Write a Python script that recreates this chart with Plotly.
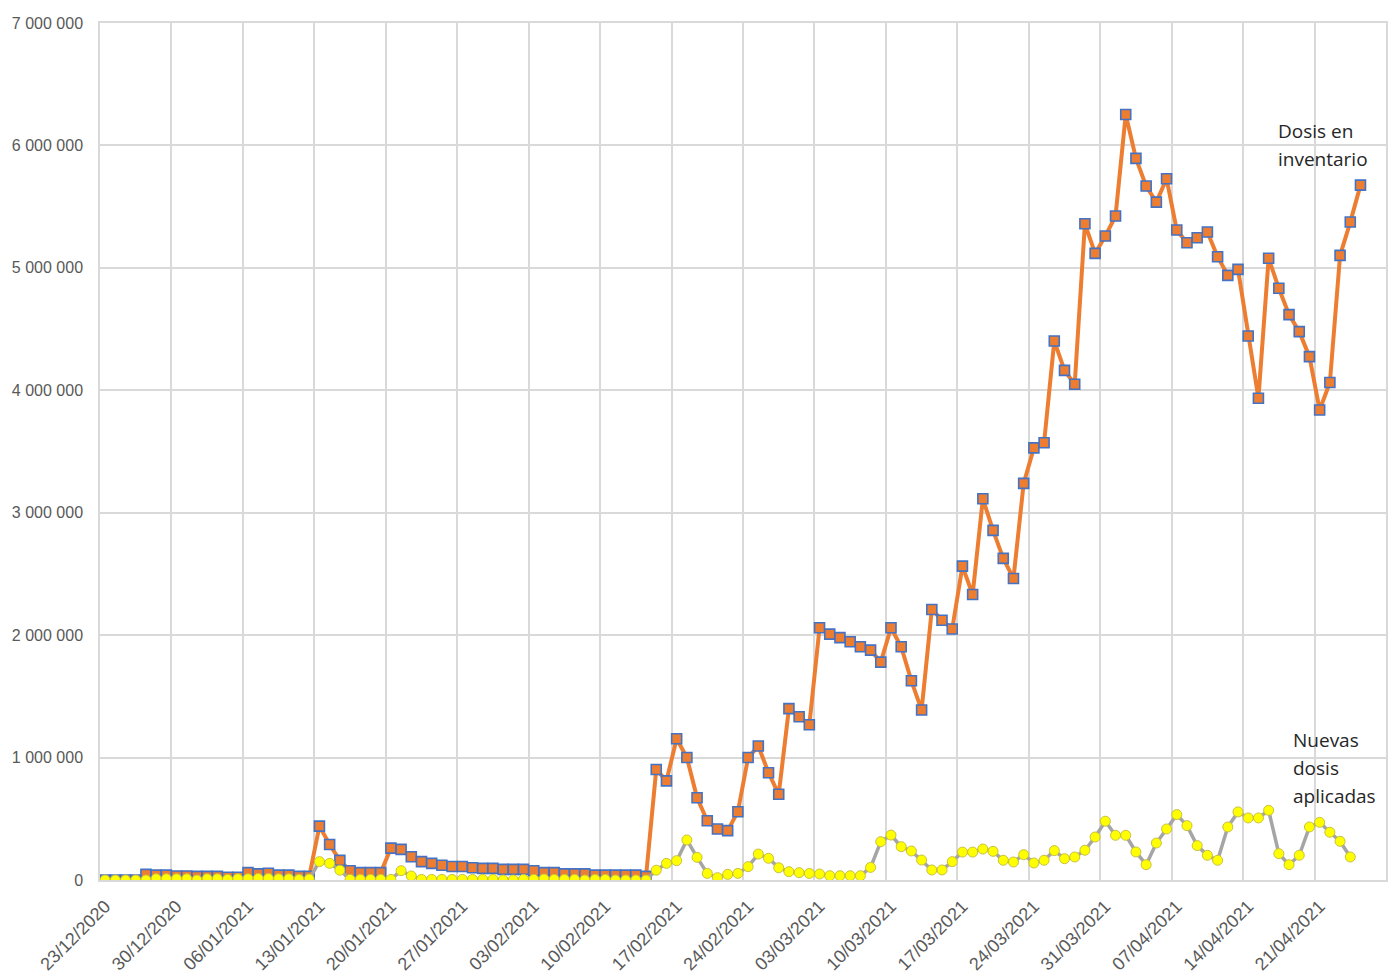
import pandas as pd
import plotly.graph_objects as go

start_date = "2020-12-23"

tick_labels = ["23/12/2020", "30/12/2020", "06/01/2021", "13/01/2021", "20/01/2021",
               "27/01/2021", "03/02/2021", "10/02/2021", "17/02/2021", "24/02/2021",
               "03/03/2021", "10/03/2021", "17/03/2021", "24/03/2021", "31/03/2021",
               "07/04/2021", "14/04/2021", "21/04/2021"]

# Dosis en inventario (millones)
inventario_m = [
    0.0, 0.0, 0.0, 0.0, 0.046, 0.040, 0.040, 0.033, 0.033, 0.030,
    0.030, 0.030, 0.022, 0.022, 0.060, 0.050, 0.055, 0.040, 0.040, 0.030,
    0.030, 0.440, 0.290, 0.160, 0.076, 0.060, 0.060, 0.060, 0.260, 0.250,
    0.190, 0.150, 0.136, 0.120, 0.110, 0.110, 0.100, 0.095, 0.095, 0.087,
    0.087, 0.087, 0.076, 0.060, 0.060, 0.050, 0.050, 0.050, 0.040, 0.040,
    0.040, 0.040, 0.040, 0.030, 0.903, 0.810, 1.154, 1.000, 0.672, 0.484,
    0.416, 0.403, 0.558, 1.000, 1.094, 0.876, 0.700, 1.400, 1.333, 1.268,
    2.060, 2.008, 1.980, 1.946, 1.905, 1.878, 1.780, 2.060, 1.905, 1.627,
    1.388, 2.210, 2.122, 2.050, 2.564, 2.332, 3.114, 2.856, 2.627, 2.463,
    3.240, 3.530, 3.572, 4.403, 4.163, 4.049, 5.360, 5.118, 5.260, 5.423,
    6.253, 5.894, 5.668, 5.537, 5.728, 5.309, 5.205, 5.246, 5.293, 5.091,
    4.939, 4.988, 4.444, 3.935, 5.078, 4.833, 4.618, 4.479, 4.275, 3.839,
    4.063, 5.102, 5.374, 5.676,
]

# Nuevas dosis aplicadas (millones)
aplicadas_m = [
    0.0, 0.0, 0.0, 0.0, 0.0, 0.010, 0.010, 0.010, 0.010, 0.0,
    0.010, 0.010, 0.005, 0.010, 0.010, 0.012, 0.012, 0.010, 0.010, 0.005,
    0.008, 0.150, 0.136, 0.080, 0.005, 0.005, 0.005, 0.005, 0.005, 0.076,
    0.033, 0.005, 0.005, 0.005, 0.005, 0.005, 0.005, 0.005, 0.005, 0.0,
    0.0, 0.005, 0.005, 0.008, 0.005, 0.005, 0.005, 0.0, 0.005, 0.005,
    0.0, 0.0, 0.0, 0.0, 0.080, 0.136, 0.158, 0.327, 0.185, 0.054,
    0.019, 0.046, 0.054, 0.109, 0.212, 0.177, 0.100, 0.068, 0.060, 0.054,
    0.049, 0.035, 0.035, 0.035, 0.035, 0.103, 0.313, 0.367, 0.272, 0.237,
    0.163, 0.082, 0.082, 0.150, 0.228, 0.228, 0.253, 0.234, 0.161, 0.147,
    0.207, 0.139, 0.161, 0.240, 0.174, 0.188, 0.243, 0.351, 0.480, 0.365,
    0.365, 0.229, 0.125, 0.302, 0.417, 0.534, 0.444, 0.281, 0.202, 0.161,
    0.433, 0.556, 0.507, 0.507, 0.569, 0.215, 0.125, 0.202, 0.433, 0.471,
    0.390, 0.316, 0.188,
]

fechas_inv = pd.date_range(start_date, periods=len(inventario_m), freq="D")
fechas_apl = pd.date_range(start_date, periods=len(aplicadas_m), freq="D")
inventario = [round(v * 1_000_000) for v in inventario_m]
aplicadas = [round(v * 1_000_000) for v in aplicadas_m]

tick_dates = [pd.to_datetime(t, format="%d/%m/%Y") for t in tick_labels]

fig = go.Figure()
fig.add_trace(go.Scatter(
    x=fechas_inv, y=inventario, mode="lines+markers", name="Dosis en inventario",
    line=dict(color="#ED7D31", width=4),
    marker=dict(symbol="square", size=10, color="#ED7D31",
                line=dict(color="#4472C4", width=1.6)),
))
fig.add_trace(go.Scatter(
    x=fechas_apl, y=aplicadas, mode="lines+markers", name="Nuevas dosis aplicadas",
    line=dict(color="#A5A5A5", width=3.5),
    marker=dict(symbol="circle", size=10, color="#FFFF00",
                line=dict(color="#C9C040", width=1)),
))

grid_c = "#D9D9D9"
fig.update_layout(
    width=1392, height=968,
    margin=dict(l=92, r=14, t=15, b=96),
    paper_bgcolor="white", plot_bgcolor="white",
    showlegend=False,
    separators=", ",
    font=dict(family="Liberation Sans, Arial, sans-serif", color="#595959"),
    xaxis=dict(
        type="date", automargin=False,
        range=["2020-12-22 12:00", "2021-04-27 12:00"],
        tickmode="array", tickvals=tick_dates, ticktext=tick_labels,
        tickangle=-45, tickfont=dict(size=18, color="#595959"),
        showgrid=False, ticks="", ticklabelstandoff=7,
        minor=dict(tick0="2020-12-22 12:00", dtick=7 * 86400000,
                   showgrid=True, gridcolor=grid_c, gridwidth=1.5, ticks=""),
        showline=True, linecolor=grid_c, linewidth=1.5, mirror=True,
        zeroline=False,
    ),
    yaxis=dict(
        range=[0, 7_000_000], dtick=1_000_000, tickformat=",d", automargin=False,
        tickfont=dict(size=16, color="#595959"),
        showgrid=True, gridcolor=grid_c, gridwidth=1.5,
        showline=True, linecolor=grid_c, linewidth=1.5, mirror=True,
        zeroline=False, ticks="", ticklabelstandoff=12,
    ),
)

ann_font = dict(family="Open Sans, sans-serif", size=19, color="#262626")
for txt, xp, yp in [("Dosis en", 0.9145, 0.874), ("inventario", 0.9145, 0.8413),
                    ("Nuevas", 0.926, 0.1634), ("dosis", 0.926, 0.1307),
                    ("aplicadas", 0.926, 0.098)]:
    fig.add_annotation(text=txt, x=xp, y=yp, xref="paper", yref="paper",
                       xanchor="left", yanchor="middle", showarrow=False,
                       font=ann_font)

fig.write_html("out.html", config={"displayModeBar": False})
